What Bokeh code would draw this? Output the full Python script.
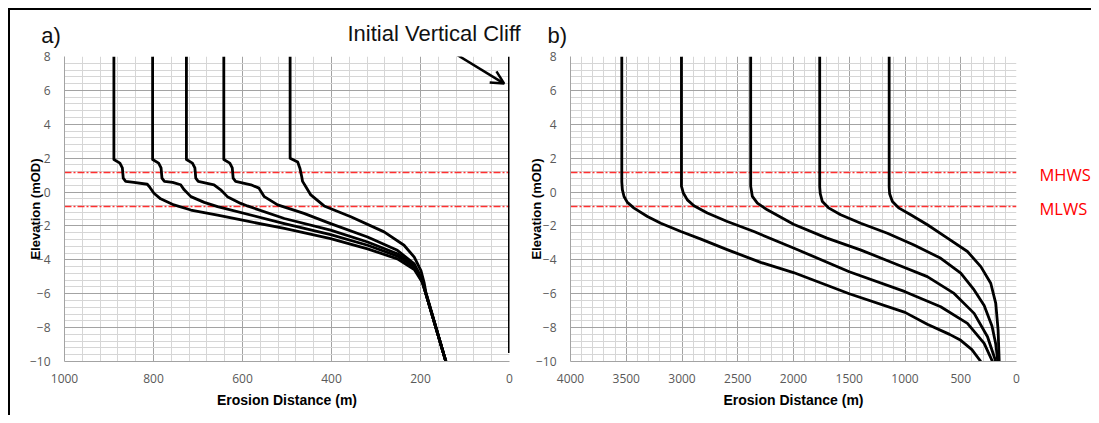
from bokeh.plotting import figure
from bokeh.models import Range1d, FixedTicker, Label, Arrow, OpenHead
from bokeh.layouts import row, column
from bokeh.embed import file_html
from bokeh.resources import INLINE

# ---------------- data ----------------
A_X_TICKS = [0, 200, 400, 600, 800, 1000]
A_X_MINOR = [40, 80, 120, 160, 240, 280, 320, 360, 440, 480, 520, 560,
             640, 680, 720, 760, 840, 880, 920, 960]
B_X_TICKS = [0, 500, 1000, 1500, 2000, 2500, 3000, 3500, 4000]
B_X_MINOR = [100, 200, 300, 400, 600, 700, 800, 900, 1100, 1200, 1300, 1400,
             1600, 1700, 1800, 1900, 2100, 2200, 2300, 2400, 2600, 2700, 2800, 2900,
             3100, 3200, 3300, 3400, 3600, 3700, 3800, 3900]
Y_TICKS = [-10, -8, -6, -4, -2, 0, 2, 4, 6, 8]
Y_MINOR = [-9.6, -9.2, -8.8, -8.4, -7.6, -7.2, -6.8, -6.4, -5.6, -5.2, -4.8, -4.4,
           -3.6, -3.2, -2.8, -2.4, -1.6, -1.2, -0.8, -0.4, 0.4, 0.8, 1.2, 1.6,
           2.4, 2.8, 3.2, 3.6, 4.4, 4.8, 5.2, 5.6, 6.4, 6.8, 7.2, 7.6]

MHWS = 1.15
MLWS = -0.85

# panel a) profiles: erosion distance (m) vs elevation (mOD)
A1_D = [889, 889, 875.5, 870, 868, 862.5, 844, 814, 808, 799, 784, 754, 716, 656, 600,
        506, 402, 319, 252, 214, 196, 189, 143]
A1_Z = [8, 1.92, 1.71, 1.42, 0.82, 0.63, 0.57, 0.46, 0.27, -0.07, -0.40, -0.76, -1.06, -1.36, -1.66,
        -2.15, -2.75, -3.35, -3.94, -4.57, -5.33, -5.9, -10]
A2_D = [802, 802, 788.5, 783, 781, 775.5, 757, 739, 731, 716, 686, 656, 506, 402, 319, 252, 214,
        196, 189, 143]
A2_Z = [8, 1.92, 1.71, 1.42, 0.82, 0.63, 0.57, 0.43, 0.13, -0.27, -0.61, -0.86, -1.86, -2.51, -3.14,
        -3.78, -4.43, -5.3, -5.9, -10]
A3_D = [726, 726, 712.5, 707, 705, 699.5, 664, 649, 634, 604, 589, 506, 402, 319, 252, 214, 196,
        189, 143]
A3_Z = [8, 1.92, 1.71, 1.42, 0.82, 0.63, 0.43, 0.13, -0.27, -0.67, -0.82, -1.56, -2.25, -2.95,
        -3.64, -4.33, -5.3, -5.9, -10]
A4_D = [642, 642, 628.5, 623, 621, 615.5, 581, 563, 551, 521, 462, 402, 319, 252, 214, 195, 189, 143]
A4_Z = [8, 1.92, 1.71, 1.42, 0.82, 0.63, 0.43, 0.23, -0.27, -0.76, -1.26, -1.86, -2.65, -3.44,
        -4.24, -5.2, -5.9, -10]
A5_D = [493, 493, 476, 471, 467, 465, 458, 446.5, 416.6, 356.6, 281.8, 237, 214, 199, 192, 188, 143]
A5_Z = [8, 2.0, 1.77, 1.41, 0.92, 0.63, 0.33, -0.17, -0.82, -1.46, -2.35, -3.14, -3.84, -4.63,
        -5.33, -5.9, -10]
CLIFF_D = [0, 0]
CLIFF_Z = [8, -9.5]

# panel b) profiles
B1_D = [3540, 3540, 3535, 3520, 3490, 3430, 3310, 3190, 3010, 2830, 2590, 2295,
        2000, 1500, 1000, 800, 600, 500, 400, 320]
B1_Z = [8, 0.6, 0.14, -0.26, -0.61, -0.95, -1.44, -1.84, -2.33, -2.78, -3.41, -4.15,
        -4.75, -6.0, -7.1, -7.8, -8.4, -8.75, -9.3, -10]
B2_D = [3005, 3005, 2988, 2952, 2893, 2773, 2594, 2355, 2000, 1500, 1000, 680, 440, 290, 215]
B2_Z = [8, 0.35, -0.06, -0.46, -0.81, -1.24, -1.74, -2.33, -3.3, -4.7, -5.88, -6.77, -7.75, -8.93, -10]
B3_D = [2384, 2384, 2369, 2324, 2235, 2000, 1700, 1400, 1100, 800, 560, 380, 260, 186]
B3_Z = [8, 0.35, -0.26, -0.65, -1.05, -1.9, -2.72, -3.41, -4.2, -4.99, -5.98, -7.16, -8.54, -10]
B4_D = [1765, 1765, 1760, 1741, 1682, 1577, 1397, 1158, 919, 679, 500, 380, 290, 220, 185, 168]
B4_Z = [8, 0.3, -0.1, -0.56, -0.95, -1.34, -1.84, -2.43, -3.12, -3.91, -4.79, -5.78, -6.7, -7.9, -9.0, -10]
B5_D = [1142, 1142, 1138, 1113, 1053, 949, 799, 619, 440, 320, 231, 186, 165, 155]
B5_Z = [8, 0.3, -0.1, -0.56, -0.95, -1.34, -1.93, -2.72, -3.51, -4.4, -5.38, -6.57, -8.15, -10]

# text / annotation anchors
A_XMAX, B_XMAX = 1000, 4000
ARROW_A = (118, 8.1, 12, 6.4)          # data units of panel a
HEADER_W, HEADER_H = 1081, 38          # header strip, pixel-like coordinates
TAG_A_POS = (30.7, 13.2)
CLIFF_TEXT_POS = (337, 14.8)
TAG_B_POS = (537, 13.2)
TIDE_TEXT_X = 17
TIDE_TEXT_DZ = -0.12                   # text centre relative to its level

# ---------------- styling ----------------
GRID_MAJOR = "#a3a3a3"
GRID_MINOR = "#d6d6d6"
RED = "#ff3030"
TICK_FONT = "Open Sans"
TITLE_FONT = "Liberation Sans"
PANEL_H = 367
PANEL_TOP = 8


def make_fig(xmax, xt, xm, width, left, right, ystandoff):
    p = figure(width=width, height=PANEL_H, x_range=Range1d(xmax, 0), y_range=Range1d(-10, 8),
               output_backend="svg", toolbar_location=None,
               min_border_left=left, min_border_right=right,
               min_border_top=PANEL_TOP, min_border_bottom=54,
               background_fill_color="white", border_fill_color="white")
    p.outline_line_color = None
    xticker = FixedTicker(ticks=xt, minor_ticks=xm)
    yticker = FixedTicker(ticks=Y_TICKS, minor_ticks=Y_MINOR)
    p.xaxis.ticker = xticker
    p.yaxis.ticker = yticker
    p.xgrid.ticker = xticker
    p.ygrid.ticker = yticker
    for g in (p.xgrid, p.ygrid):
        g.grid_line_color = GRID_MAJOR
        g.grid_line_width = 1
        g.minor_grid_line_color = GRID_MINOR
        g.minor_grid_line_width = 1
    for ax in (p.xaxis[0], p.yaxis[0]):
        ax.major_tick_out = 0
        ax.major_tick_in = 0
        ax.minor_tick_out = 0
        ax.minor_tick_in = 0
        ax.axis_line_color = GRID_MAJOR
        ax.major_label_text_font = TICK_FONT
        ax.major_label_text_font_size = "12px"
        ax.major_label_text_color = "#595959"
        ax.axis_label_text_font = TITLE_FONT
        ax.axis_label_text_font_style = "bold"
        ax.axis_label_text_color = "#000000"
    p.xaxis.axis_label = "Erosion Distance (m)"
    p.xaxis.axis_label_text_font_size = "14px"
    p.xaxis.major_label_standoff = 12
    p.xaxis.axis_label_standoff = 6
    p.yaxis.axis_label = "Elevation (mOD)"
    p.yaxis.axis_label_text_font_size = "13px"
    p.yaxis.major_label_standoff = 14
    p.yaxis.axis_label_standoff = ystandoff
    for lvl in (MHWS, MLWS):
        p.line([xmax, 0], [lvl, lvl], line_color=RED, line_width=1.5, line_dash="7 2 2 2")
    return p


def blank_fig(width, height, xr, yr, top=0, bottom=0):
    p = figure(width=width, height=height, x_range=xr, y_range=yr,
               x_axis_type=None, y_axis_type=None,
               output_backend="svg", toolbar_location=None,
               min_border_left=0, min_border_right=0, min_border_top=top, min_border_bottom=bottom,
               background_fill_color="white", border_fill_color="white")
    p.outline_line_color = None
    return p


# header strip with panel tags and the cliff note
head = blank_fig(HEADER_W, HEADER_H, Range1d(0, HEADER_W), Range1d(0, HEADER_H))
for txt, pos, size in (("a)", TAG_A_POS, "22px"), ("Initial Vertical Cliff", CLIFF_TEXT_POS, "22px"),
                       ("b)", TAG_B_POS, "22px")):
    head.add_layout(Label(x=pos[0], y=pos[1], text=txt, text_font=TITLE_FONT,
                          text_font_size=size, text_color="#111111",
                          text_align="left", text_baseline="alphabetic"))

# panel a
pa = make_fig(A_XMAX, A_X_TICKS, A_X_MINOR, 512, 54, 13, -16)
for d, z in ((A1_D, A1_Z), (A2_D, A2_Z), (A3_D, A3_Z), (A4_D, A4_Z), (A5_D, A5_Z)):
    pa.line(d, z, line_color="black", line_width=2.8, line_join="round")
pa.line(CLIFF_D, CLIFF_Z, line_color="black", line_width=3)
pa.add_layout(Arrow(end=OpenHead(size=13, line_width=2.5, line_color="black"),
                    x_start=ARROW_A[0], y_start=ARROW_A[1], x_end=ARROW_A[2], y_end=ARROW_A[3],
                    line_width=2.5, line_color="black"))

# panel b
pb = make_fig(B_XMAX, B_X_TICKS, B_X_MINOR, 500, 48, 6, -11)
for d, z in ((B1_D, B1_Z), (B2_D, B2_Z), (B3_D, B3_Z), (B4_D, B4_Z), (B5_D, B5_Z)):
    pb.line(d, z, line_color="black", line_width=2.8, line_join="round")

# tide level names to the right of panel b
side = blank_fig(69, PANEL_H, Range1d(0, 69), pb.y_range, top=PANEL_TOP, bottom=54)
for txt, lvl in (("MHWS", MHWS), ("MLWS", MLWS)):
    side.add_layout(Label(x=TIDE_TEXT_X, y=lvl + TIDE_TEXT_DZ, text=txt, text_font="Open Sans",
                          text_font_size="16.5px", text_color="#ff0000",
                          text_align="left", text_baseline="middle"))

layout = column(head, row(pa, pb, side),
                styles={"border-top": "2px solid black", "border-left": "2px solid black",
                        "margin-left": "8px", "margin-top": "8px"})

open("out.html", "w").write(file_html(layout, INLINE))
